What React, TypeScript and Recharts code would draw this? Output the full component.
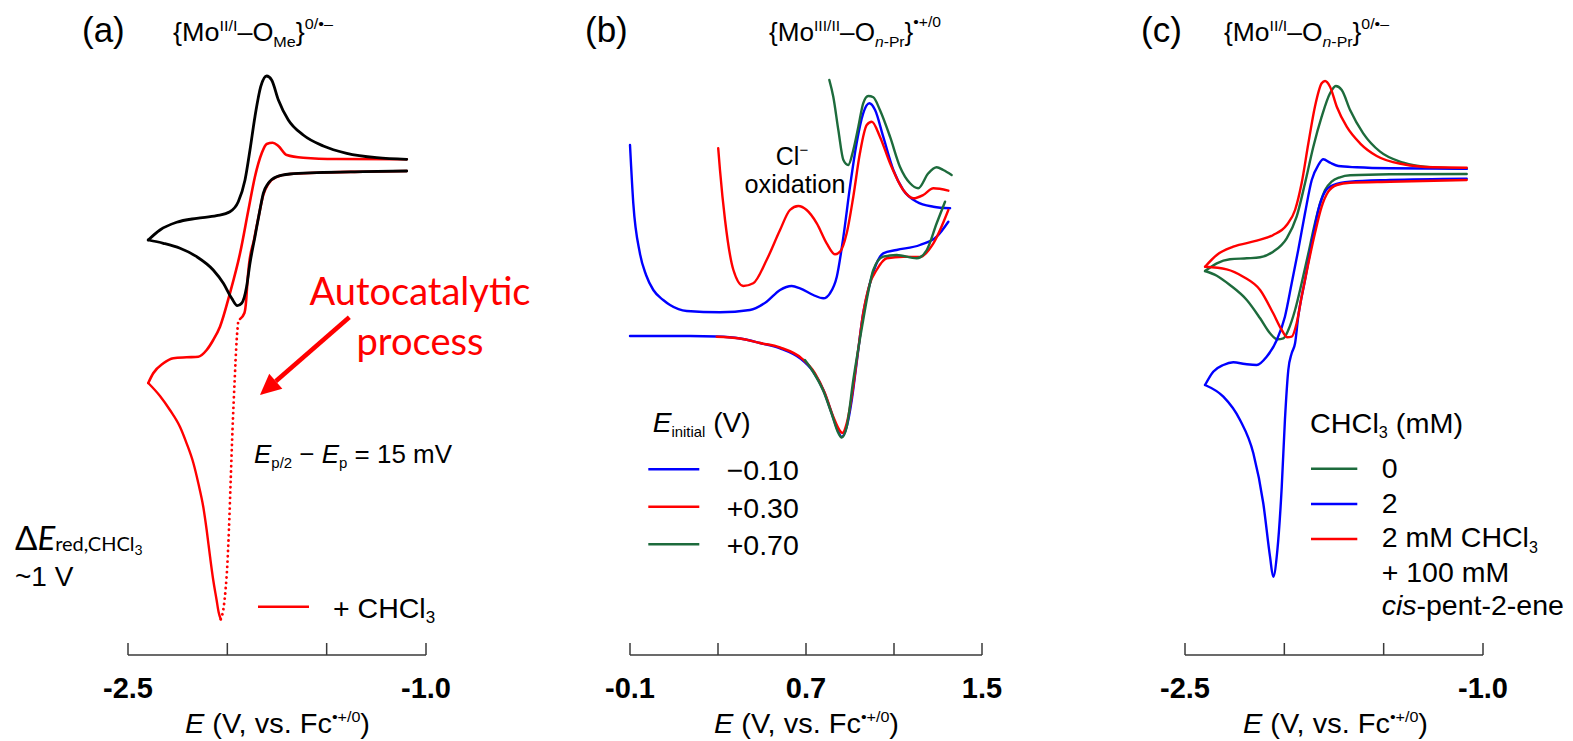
import React from 'react';
import { LineChart, Line, XAxis, YAxis, ReferenceLine } from 'recharts';

type Pt = [number, number]; // [E (V vs Fc), current (arb. units)]

const RED = '#ff0000';
const BLUE = '#0000ff';
const GREEN = '#1d6b3c';
const BLACK = '#000000';
const AXIS = '#3a3a3a';
const SANS = "'Liberation Sans', Arial, sans-serif";
const SOFT = "Lato, 'Open Sans', sans-serif";

// shared layout
const I_DOMAIN: [number, number] = [-35.5, 24];
const TOP = 60;
const PLOT_H = 595;
const AXIS_H = 86;
const PAD = 40;

// ---- panel (a): Mo(II/I)-OMe, without / with CHCl3 ----
const aBlackFwd: Pt[] = [
  [-1.097, 12.9], [-1.316, 12.83], [-1.55, 12.73], [-1.685, 12.6], [-1.752, 12.33], [-1.794, 11.67],
  [-1.819, 10.67], [-1.836, 9.0], [-1.861, 6.33], [-1.886, 3.67], [-1.903, 1.33], [-1.928, -0.33],
  [-1.95, -0.57], [-1.978, 0.17], [-2.02, 1.67], [-2.071, 3.0], [-2.154, 4.33], [-2.238, 5.17],
  [-2.322, 5.67], [-2.398, 6.0],
];
const aBlackRev: Pt[] = [
  [-2.398, 6.0], [-2.339, 7.0], [-2.255, 7.77], [-2.154, 8.17], [-2.054, 8.43], [-1.987, 8.83],
  [-1.945, 9.83], [-1.911, 12.0], [-1.886, 15.0], [-1.861, 18.33], [-1.832, 21.33], [-1.802, 22.4],
  [-1.777, 22.0], [-1.743, 20.0], [-1.693, 18.0], [-1.618, 16.5], [-1.517, 15.4], [-1.399, 14.67],
  [-1.248, 14.23], [-1.097, 14.07],
];
const aRedFwd: Pt[] = [
  [-1.097, 12.9], [-1.316, 12.83], [-1.55, 12.73], [-1.685, 12.6], [-1.752, 12.3], [-1.794, 11.6],
  [-1.819, 10.5], [-1.841, 8.5], [-1.866, 6.0], [-1.891, 3.5], [-1.9, 1.5], [-1.905, 0.0],
  [-1.914, -1.3], [-1.936, -1.9],
];
const aRedDotted: Pt[] = [
  [-1.945, -2.1], [-1.953, -4.0], [-1.963, -8.0], [-1.974, -13.0], [-1.983, -18.0], [-1.992, -23.0],
  [-2.0, -26.5], [-2.009, -29.0], [-2.019, -30.8], [-2.033, -31.93],
];
const aRedFwd2: Pt[] = [
  [-2.033, -31.93], [-2.044, -31.2], [-2.054, -30.0], [-2.071, -28.0], [-2.087, -25.67], [-2.104, -23.0],
  [-2.121, -20.7], [-2.146, -18.33], [-2.171, -16.3], [-2.205, -14.33], [-2.238, -12.7], [-2.289, -11.0],
  [-2.339, -9.6], [-2.398, -8.3],
];
const aRedRev: Pt[] = [
  [-2.398, -8.3], [-2.373, -7.33], [-2.322, -6.33], [-2.272, -5.83], [-2.205, -5.73], [-2.146, -5.67],
  [-2.104, -5.0], [-2.071, -4.0], [-2.037, -2.67], [-1.987, 0.67], [-1.936, 4.67], [-1.894, 9.0],
  [-1.861, 12.33], [-1.827, 14.67], [-1.802, 15.6], [-1.772, 15.73], [-1.743, 15.4], [-1.701, 14.5],
  [-1.618, 14.23], [-1.45, 14.1], [-1.097, 14.07],
];
const aArrow: Pt[] = [[-1.386, -1.73], [-1.836, -9.5]];

// ---- panel (b): Mo(III/II)-OnPr, different initial potentials ----
const bBlueFwd: Pt[] = [
  [-0.1, -3.6], [0.036, -3.6], [0.173, -3.6], [0.294, -3.65], [0.4, -3.85], [0.491, -4.3], [0.582, -4.83],
  [0.673, -5.83], [0.733, -7.17], [0.779, -9.0], [0.817, -11.33], [0.847, -13.17], [0.862, -13.7],
  [0.885, -12.67], [0.908, -10.0], [0.93, -6.33], [0.96, -1.33], [0.983, 1.0], [1.009, 3.0], [1.051, 4.67],
  [1.112, 5.0], [1.218, 5.5], [1.294, 6.33], [1.347, 7.83],
];
const bBlueRev: Pt[] = [
  [-0.1, 15.5], [-0.085, 9.67], [-0.055, 4.67], [-0.027, 2.5], [0.006, 1.0], [0.051, 0.0], [0.082, -0.5],
  [0.158, -1.1], [0.309, -1.23], [0.445, -1.0], [0.521, -0.17], [0.582, 1.0], [0.635, 1.4], [0.673, 1.17],
  [0.733, 0.5], [0.779, 0.17], [0.809, 0.67], [0.84, 2.33], [0.87, 6.33], [0.9, 11.33], [0.93, 15.67],
  [0.96, 18.67], [0.988, 19.67], [1.014, 19.0], [1.051, 16.33], [1.097, 13.0], [1.142, 11.0],
  [1.203, 9.83], [1.279, 9.33], [1.355, 9.17],
];
const bRedFwd: Pt[] = [
  [0.294, -3.67], [0.4, -3.85], [0.491, -4.3], [0.582, -4.75], [0.68, -5.83], [0.741, -7.33], [0.786, -9.33],
  [0.824, -11.67], [0.855, -13.1], [0.865, -13.3], [0.885, -12.33], [0.908, -9.67], [0.933, -5.67],
  [0.96, -1.33], [0.988, 1.5], [1.021, 3.0], [1.067, 4.17], [1.142, 4.33], [1.218, 4.3], [1.279, 5.67],
  [1.347, 9.0],
];
const bRedRev: Pt[] = [
  [0.301, 15.17], [0.309, 13.0], [0.332, 8.0], [0.37, 3.0], [0.415, 1.4], [0.46, 1.67], [0.521, 4.0],
  [0.582, 7.0], [0.627, 9.0], [0.665, 9.4], [0.703, 9.0], [0.749, 7.67], [0.794, 5.67], [0.832, 4.57],
  [0.855, 4.83], [0.885, 6.67], [0.915, 10.33], [0.945, 14.67], [0.976, 17.5], [0.999, 17.83],
  [1.036, 16.33], [1.082, 13.67], [1.142, 11.0], [1.188, 10.17], [1.233, 10.5], [1.279, 11.17],
  [1.347, 10.93],
];
const bGreenFwd: Pt[] = [
  [0.695, -6.0], [0.733, -7.2], [0.779, -9.1], [0.817, -11.4], [0.847, -13.3], [0.862, -13.75],
  [0.885, -12.7], [0.915, -8.0], [0.96, -2.0], [0.976, 0.0], [1.006, 3.0], [1.051, 4.33], [1.112, 4.5],
  [1.203, 4.17], [1.249, 5.0], [1.294, 7.67], [1.332, 9.83],
];
const bGreenRev: Pt[] = [
  [0.806, 22.0], [0.824, 20.33], [0.847, 17.0], [0.87, 14.0], [0.892, 13.5], [0.915, 15.0], [0.938, 17.33],
  [0.96, 19.67], [0.983, 20.4], [1.006, 20.27], [1.036, 19.0], [1.082, 16.33], [1.127, 13.33],
  [1.173, 11.67], [1.21, 11.17], [1.256, 12.67], [1.294, 13.27], [1.324, 13.0], [1.362, 12.5],
];
const bLegend = ['\u22120.10', '+0.30', '+0.70'];

// ---- panel (c): Mo(II/I)-OnPr with CHCl3 / pentene ----
const cGreenFwd: Pt[] = [
  [-2.399, 2.9], [-2.34, 2.43], [-2.274, 1.5], [-2.189, 0.0], [-2.122, -1.83], [-2.072, -3.33],
  [-2.035, -3.93], [-2.005, -3.83], [-1.98, -3.0], [-1.946, -1.0], [-1.913, 1.67], [-1.879, 4.67],
  [-1.846, 7.67], [-1.82, 9.67], [-1.795, 11.0], [-1.762, 11.83], [-1.72, 12.27], [-1.669, 12.47],
  [-1.468, 12.57], [-1.082, 12.6],
];
const cGreenRev: Pt[] = [
  [-2.399, 2.9], [-2.34, 3.67], [-2.274, 4.07], [-2.189, 4.17], [-2.122, 4.27], [-2.056, 4.83],
  [-1.988, 6.17], [-1.938, 8.33], [-1.896, 11.67], [-1.854, 15.33], [-1.812, 18.33], [-1.77, 20.67],
  [-1.741, 21.4], [-1.711, 21.0], [-1.669, 19.0], [-1.603, 16.67], [-1.518, 14.83], [-1.401, 13.73],
  [-1.267, 13.27], [-1.082, 13.13],
];
const cBlueFwd: Pt[] = [
  [-2.399, -8.5], [-2.307, -9.67], [-2.223, -12.0], [-2.156, -15.33], [-2.106, -20.33], [-2.072, -25.67],
  [-2.056, -27.67], [-2.035, -25.0], [-2.013, -18.67], [-1.997, -12.0], [-1.98, -7.0], [-1.963, -5.33],
  [-1.946, -4.33], [-1.93, -1.67], [-1.896, 2.0], [-1.862, 5.67], [-1.829, 9.0], [-1.795, 10.83],
  [-1.754, 11.5], [-1.669, 11.83], [-1.468, 12.0], [-1.082, 12.13],
];
const cBlueRev: Pt[] = [
  [-2.399, -8.5], [-2.358, -7.17], [-2.307, -6.5], [-2.257, -6.23], [-2.198, -6.4], [-2.139, -6.5],
  [-2.089, -5.67], [-2.038, -4.0], [-1.997, -1.67], [-1.963, 1.67], [-1.93, 5.0], [-1.896, 8.67],
  [-1.862, 12.0], [-1.829, 13.5], [-1.804, 14.07], [-1.77, 13.73], [-1.728, 13.4], [-1.636, 13.27],
  [-1.468, 13.17], [-1.082, 13.13],
];
const cRedFwd: Pt[] = [
  [-2.399, 3.33], [-2.29, 3.07], [-2.207, 2.33], [-2.122, 1.0], [-2.056, -1.33], [-2.013, -3.0],
  [-1.985, -3.73], [-1.963, -3.67], [-1.938, -2.33], [-1.913, 0.33], [-1.879, 3.67], [-1.846, 6.67],
  [-1.812, 9.33], [-1.779, 10.83], [-1.736, 11.5], [-1.669, 11.73], [-1.468, 11.83], [-1.082, 12.0],
];
const cRedRev: Pt[] = [
  [-2.399, 3.33], [-2.34, 4.5], [-2.257, 5.33], [-2.139, 5.93], [-2.056, 6.5], [-1.988, 7.5],
  [-1.946, 9.0], [-1.913, 11.67], [-1.879, 15.67], [-1.846, 19.33], [-1.812, 21.67], [-1.795, 21.9],
  [-1.77, 21.33], [-1.736, 19.33], [-1.686, 17.33], [-1.619, 15.67], [-1.535, 14.4], [-1.401, 13.57],
  [-1.25, 13.27], [-1.082, 13.23],
];

const ticksWide = [-2.5, -2.0, -1.5, -1.0];
const labelsWide = [-2.5, -1.0];
const ticksB = [-0.1, 0.3, 0.7, 1.1, 1.5];
const labelsB = [-0.1, 0.7, 1.5];

const toRows = (pts: Pt[]) => pts.map(([E, I]) => ({ E, I })).sort((p, q) => p.E - q.E);

type Series = { key: string; data: Pt[]; color: string; width?: number; dash?: string };

const ArrowShape = (props: any) => {
  const { x1, y1, x2, y2 } = props;
  const ang = Math.atan2(y2 - y1, x2 - x1);
  const head = 21;
  const half = 10;
  const bx = x2 - head * Math.cos(ang);
  const by = y2 - head * Math.sin(ang);
  const nx = -Math.sin(ang);
  const ny = Math.cos(ang);
  return (
    <g>
      <line x1={x1} y1={y1} x2={bx} y2={by} stroke={RED} strokeWidth={4.5} />
      <polygon
        points={`${x2},${y2} ${bx + nx * half},${by + ny * half} ${bx - nx * half},${by - ny * half}`}
        fill={RED}
      />
    </g>
  );
};

function Panel(props: {
  left: number;
  width: number;
  domain: [number, number];
  ticks: number[];
  labels: number[];
  series: Series[];
  children?: React.ReactNode;
}) {
  const { left, width, domain, ticks, labels, series, children } = props;
  const tick = (p: any) => {
    const { x, y, payload } = p;
    const v = payload.value as number;
    const show = labels.some((l) => Math.abs(l - v) < 1e-9);
    return (
      <g>
        <line x1={x} x2={x} y1={y - 12} y2={y} stroke={AXIS} strokeWidth={1.5} />
        {show && (
          <text x={x} y={y + 43} textAnchor="middle" fontFamily={SANS} fontSize={29} fontWeight={700} fill="#000">
            {v.toFixed(1)}
          </text>
        )}
      </g>
    );
  };
  return (
    <div style={{ position: 'absolute', left: left - PAD, top: TOP }}>
      <LineChart
        width={width + 2 * PAD}
        height={PLOT_H + AXIS_H}
        margin={{ top: 0, right: PAD, bottom: 0, left: PAD }}
      >
        <XAxis
          type="number"
          dataKey="E"
          domain={domain}
          ticks={ticks}
          interval={0}
          height={AXIS_H}
          tickSize={0}
          tickMargin={0}
          tickLine={false}
          axisLine={{ stroke: AXIS, strokeWidth: 1.5 }}
          tick={tick}
        />
        <YAxis type="number" dataKey="I" domain={I_DOMAIN} hide />
        {series.map((s) => (
          <Line
            key={s.key}
            data={toRows(s.data)}
            dataKey="I"
            type="monotone"
            stroke={s.color}
            strokeWidth={s.width ?? 2.4}
            strokeDasharray={s.dash}
            strokeLinecap="round"
            dot={false}
            activeDot={false}
            isAnimationActive={false}
          />
        ))}
        {children}
      </LineChart>
    </div>
  );
}

function AxisTitle({ x, w }: { x: number; w: number }) {
  return (
    <text x={x} y={733} fontSize={27} textLength={w} lengthAdjust="spacingAndGlyphs">
      <tspan fontStyle="italic">E</tspan>
      {' (V, vs. Fc'}
      <tspan dy={-11} fontSize={15}>{'\u2022+/0'}</tspan>
      <tspan dy={11}>)</tspan>
    </text>
  );
}

function Overlay() {
  return (
    <svg
      width={1573}
      height={741}
      style={{ position: 'absolute', left: 0, top: 0, pointerEvents: 'none' }}
      fontFamily={SANS}
      fill="#000"
    >
      {/* panel (a) */}
      <text x={82} y={42} fontSize={35}>(a)</text>
      <text x={173} y={41} fontSize={25} textLength={160} lengthAdjust="spacingAndGlyphs">
        {'{Mo'}
        <tspan dy={-10} fontSize={15}>II/I</tspan>
        <tspan dy={10} fontSize={25}>{'\u2013O'}</tspan>
        <tspan dy={6} fontSize={15}>Me</tspan>
        <tspan dy={-6} fontSize={25}>{'}'}</tspan>
        <tspan dy={-12} fontSize={15}>{'0/\u2022\u2013'}</tspan>
      </text>
      <text x={420} y={305} fontSize={38} fontFamily={SOFT} fill={RED} textAnchor="middle" textLength={221} lengthAdjust="spacingAndGlyphs">
        Autocatalytic
      </text>
      <text x={420} y={355} fontSize={38} fontFamily={SOFT} fill={RED} textAnchor="middle" textLength={127} lengthAdjust="spacingAndGlyphs">
        process
      </text>
      <text x={254} y={463} fontSize={26} textLength={198} lengthAdjust="spacingAndGlyphs">
        <tspan fontStyle="italic">E</tspan>
        <tspan dy={5} fontSize={15}>p/2</tspan>
        <tspan dy={-5}>{' \u2212 '}</tspan>
        <tspan fontStyle="italic">E</tspan>
        <tspan dy={5} fontSize={15}>p</tspan>
        <tspan dy={-5}>{' = 15 mV'}</tspan>
      </text>
      <text x={15} y={550} fontSize={33} fontFamily={SOFT}>
        {'\u0394'}
        <tspan fontStyle="italic">E</tspan>
        <tspan dy={1} fontSize={20}>red,CHCl</tspan>
        <tspan dy={4} fontSize={14}>3</tspan>
      </text>
      <text x={15} y={586} fontSize={28}>~1 V</text>
      <line x1={258} x2={309} y1={606.7} y2={606.7} stroke={RED} strokeWidth={2.6} />
      <text x={333} y={618} fontSize={28.5}>
        {'+ CHCl'}
        <tspan dy={5} fontSize={17}>3</tspan>
      </text>
      <AxisTitle x={185} w={185} />

      {/* panel (b) */}
      <text x={585} y={42} fontSize={35}>(b)</text>
      <text x={769} y={41} fontSize={25} textLength={172} lengthAdjust="spacingAndGlyphs">
        {'{Mo'}
        <tspan dy={-10} fontSize={15}>III/II</tspan>
        <tspan dy={10} fontSize={25}>{'\u2013O'}</tspan>
        <tspan dy={6} fontSize={15} fontStyle="italic">n</tspan>
        <tspan fontSize={15}>-Pr</tspan>
        <tspan dy={-6} fontSize={25}>{'}'}</tspan>
        <tspan dy={-14} fontSize={15}>{'\u2022+/0'}</tspan>
      </text>
      <text x={792} y={165} fontSize={25} textAnchor="middle">
        Cl
        <tspan dy={-10} fontSize={15}>{'\u2212'}</tspan>
      </text>
      <text x={795} y={193} fontSize={25} textAnchor="middle" textLength={101} lengthAdjust="spacingAndGlyphs">
        oxidation
      </text>
      <text x={652.7} y={431.7} fontSize={28.5} textLength={98} lengthAdjust="spacingAndGlyphs">
        <tspan fontStyle="italic">E</tspan>
        <tspan dy={5} fontSize={15}>initial</tspan>
        <tspan dy={-5}>{' (V)'}</tspan>
      </text>
      {[BLUE, RED, GREEN].map((c, i) => (
        <g key={c}>
          <line x1={648.3} x2={699.3} y1={469.3 + i * 37.5} y2={469.3 + i * 37.5} stroke={c} strokeWidth={2.4} />
          <text x={726.7} y={480 + i * 37.5} fontSize={28.5}>{bLegend[i]}</text>
        </g>
      ))}
      <AxisTitle x={714} w={185} />

      {/* panel (c) */}
      <text x={1141} y={42} fontSize={35}>(c)</text>
      <text x={1224} y={41} fontSize={25} textLength={165} lengthAdjust="spacingAndGlyphs">
        {'{Mo'}
        <tspan dy={-10} fontSize={15}>II/I</tspan>
        <tspan dy={10} fontSize={25}>{'\u2013O'}</tspan>
        <tspan dy={6} fontSize={15} fontStyle="italic">n</tspan>
        <tspan fontSize={15}>-Pr</tspan>
        <tspan dy={-6} fontSize={25}>{'}'}</tspan>
        <tspan dy={-12} fontSize={15}>{'0/\u2022\u2013'}</tspan>
      </text>
      <text x={1310} y={432.7} fontSize={28.5} textLength={153} lengthAdjust="spacingAndGlyphs">
        CHCl
        <tspan dy={5} fontSize={16}>3</tspan>
        <tspan dy={-5}>{' (mM)'}</tspan>
      </text>
      <line x1={1311} x2={1357.3} y1={468.7} y2={468.7} stroke={GREEN} strokeWidth={2.4} />
      <line x1={1311} x2={1357.3} y1={504} y2={504} stroke={BLUE} strokeWidth={2.4} />
      <line x1={1311} x2={1357.3} y1={539} y2={539} stroke={RED} strokeWidth={2.4} />
      <text x={1381.7} y={478.3} fontSize={28.5}>0</text>
      <text x={1381.7} y={513.3} fontSize={28.5}>2</text>
      <text x={1381.7} y={546.7} fontSize={28.5}>
        {'2 mM CHCl'}
        <tspan dy={6} fontSize={16}>3</tspan>
      </text>
      <text x={1381.7} y={581.7} fontSize={28.5}>+ 100 mM</text>
      <text x={1381.7} y={615} fontSize={28.5}>
        <tspan fontStyle="italic">cis</tspan>
        -pent-2-ene
      </text>
      <AxisTitle x={1243} w={185} />
    </svg>
  );
}

export default function App() {
  return (
    <div style={{ position: 'absolute', left: 0, top: 0, width: 1573, height: 741, background: '#fff', overflow: 'hidden' }}>
      <Panel
        left={128}
        width={298}
        domain={[-2.5, -1.0]}
        ticks={ticksWide}
        labels={labelsWide}
        series={[
          { key: 'aRedFwd', data: aRedFwd, color: RED, width: 2.6 },
          { key: 'aRedDot', data: aRedDotted, color: RED, width: 2.8, dash: '0.1 5.2' },
          { key: 'aRedFwd2', data: aRedFwd2, color: RED, width: 2.4 },
          { key: 'aRedRev', data: aRedRev, color: RED, width: 2.6 },
          { key: 'aBlackFwd', data: aBlackFwd, color: BLACK, width: 2.8 },
          { key: 'aBlackRev', data: aBlackRev, color: BLACK, width: 2.8 },
        ]}
      >
        <ReferenceLine
          segment={[{ x: aArrow[0][0], y: aArrow[0][1] }, { x: aArrow[1][0], y: aArrow[1][1] }]}
          shape={ArrowShape}
          ifOverflow="visible"
        />
      </Panel>
      <Panel
        left={630}
        width={352}
        domain={[-0.1, 1.5]}
        ticks={ticksB}
        labels={labelsB}
        series={[
          { key: 'bBlueFwd', data: bBlueFwd, color: BLUE },
          { key: 'bBlueRev', data: bBlueRev, color: BLUE },
          { key: 'bRedFwd', data: bRedFwd, color: RED },
          { key: 'bRedRev', data: bRedRev, color: RED },
          { key: 'bGreenFwd', data: bGreenFwd, color: GREEN },
          { key: 'bGreenRev', data: bGreenRev, color: GREEN },
        ]}
      />
      <Panel
        left={1185}
        width={298}
        domain={[-2.5, -1.0]}
        ticks={ticksWide}
        labels={labelsWide}
        series={[
          { key: 'cGreenFwd', data: cGreenFwd, color: GREEN },
          { key: 'cGreenRev', data: cGreenRev, color: GREEN },
          { key: 'cBlueFwd', data: cBlueFwd, color: BLUE },
          { key: 'cBlueRev', data: cBlueRev, color: BLUE },
          { key: 'cRedFwd', data: cRedFwd, color: RED },
          { key: 'cRedRev', data: cRedRev, color: RED },
        ]}
      />
      <Overlay />
    </div>
  );
}
